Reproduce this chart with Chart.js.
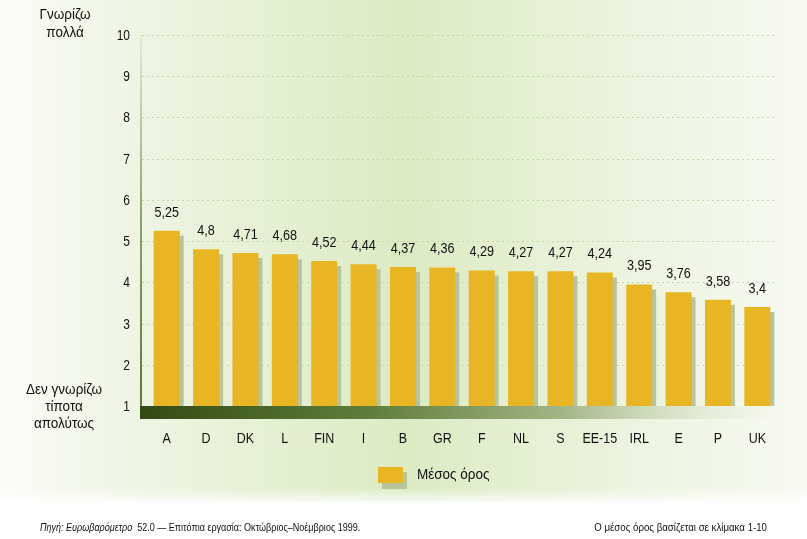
<!DOCTYPE html>
<html><head><meta charset="utf-8">
<script src="https://cdn.jsdelivr.net/npm/chart.js@4"></script>
<style>html,body{margin:0;padding:0;background:#fff}#wrap{width:807px;height:539px;position:relative}</style>
</head><body><div id="wrap"><canvas id="c" width="807" height="539"></canvas></div>
<script>
const categories = ["A","D","DK","L","FIN","I","B","GR","F","NL","S","EE-15","IRL","E","P","UK"];
const meanValues = [5.25,4.8,4.71,4.68,4.52,4.44,4.37,4.36,4.29,4.27,4.27,4.24,3.95,3.76,3.58,3.4];
const valueLabels = ["5,25","4,8","4,71","4,68","4,52","4,44","4,37","4,36","4,29","4,27","4,27","4,24","3,95","3,76","3,58","3,4"];
const yTicks = [1,2,3,4,5,6,7,8,9,10];
const seriesLabel = "Μέσος όρος";
const topAxisTitle = ["Γνωρίζω","πολλά"];
const bottomAxisTitle = ["Δεν γνωρίζω","τίποτα","απολύτως"];
const sourceItalic = "Πηγή: Ευρωβαρόμετρο";
const sourceRest = "  52.0 — Επιτόπια εργασία: Οκτώβριος–Νοέμβριος 1999.";
const noteText = "Ο μέσος όρος βασίζεται σε κλίμακα 1-10";

const FONT = '"Liberation Sans",Arial,sans-serif';
const BAR = '#e8b624', SHADOW = '#b7c49c';

function txt(ctx, s, x, y, align, font, sx){
  ctx.save(); ctx.font = font; ctx.translate(x,y); ctx.scale(sx,1);
  ctx.textAlign = align; ctx.textBaseline = 'alphabetic'; ctx.fillText(s,0,0); ctx.restore();
}

const bgPlugin = {
  id:'bg',
  beforeDraw(chart){
    const ctx = chart.ctx, W = chart.width, H = chart.height;
    ctx.save();
    ctx.fillStyle = '#fff'; ctx.fillRect(0,0,W,H);
    const g = ctx.createLinearGradient(0,0,W,0);
    g.addColorStop(0,'#fbfcf8');
    g.addColorStop(0.18,'#eef4e2');
    g.addColorStop(0.5,'#dcebc3');
    g.addColorStop(0.8,'#eef4e1');
    g.addColorStop(1,'#f8faf3');
    ctx.fillStyle = g; ctx.fillRect(0,0,W,502);
    const v = ctx.createLinearGradient(0,488,0,506);
    v.addColorStop(0,'rgba(255,255,255,0)');
    v.addColorStop(1,'rgba(255,255,255,1)');
    ctx.fillStyle = v; ctx.fillRect(0,488,W,20);
    // grid lines
    const y = chart.scales.y;
    ctx.strokeStyle = '#c3d8a8'; ctx.lineWidth = 1; ctx.setLineDash([2,3]);
    yTicks.forEach(t=>{ if(t===1) return;
      const py = Math.round(y.getPixelForValue(t))+0.5;
      ctx.beginPath(); ctx.moveTo(142,py); ctx.lineTo(776,py); ctx.stroke();
    });
    ctx.setLineDash([]);
    // y axis line
    const la = ctx.createLinearGradient(0,y.top,0,y.bottom);
    la.addColorStop(0,'#e4ecd6'); la.addColorStop(0.5,'#8aa466'); la.addColorStop(1,'#5b7a36');
    ctx.strokeStyle = la; ctx.lineWidth = 2;
    ctx.beginPath(); ctx.moveTo(141,y.top); ctx.lineTo(141,y.bottom); ctx.stroke();
    // y tick labels
    ctx.fillStyle = '#111';
    yTicks.forEach(t=>{ txt(ctx, String(t), 130, y.getPixelForValue(t)+5, 'right', '15px '+FONT, 0.8); });
    ctx.restore();
  },
  beforeDatasetDraw(chart){
    const ctx = chart.ctx; ctx.save();
    ctx.shadowColor = SHADOW; ctx.shadowOffsetX = 4; ctx.shadowOffsetY = 5; ctx.shadowBlur = 0;
  },
  afterDatasetDraw(chart){ chart.ctx.restore(); },
  afterDatasetsDraw(chart){
    const ctx = chart.ctx, y = chart.scales.y, x = chart.scales.x;
    ctx.save();
    const base = y.getPixelForValue(1);
    const bg = ctx.createLinearGradient(140,0,790,0);
    bg.addColorStop(0,'#314a12'); bg.addColorStop(0.35,'#5f7d3a');
    bg.addColorStop(0.65,'#a3b587'); bg.addColorStop(1,'rgba(230,238,215,0)');
    ctx.fillStyle = bg; ctx.fillRect(140,base,650,13);
    ctx.fillStyle = '#111';
    // x tick labels
    categories.forEach((c,i)=>{ txt(ctx, c, x.getPixelForValue(i), 443, 'center', '14.5px '+FONT, 0.86); });
    // value labels
    chart.getDatasetMeta(0).data.forEach((b,i)=>{ txt(ctx, valueLabels[i], b.x, b.y-14, 'center', '14px '+FONT, 0.9); });
    // axis titles
    txt(ctx, topAxisTitle[0],65,19,'center','15px '+FONT,0.9);
    txt(ctx, topAxisTitle[1],65,37,'center','15px '+FONT,0.9);
    txt(ctx, bottomAxisTitle[0],64,394,'center','15px '+FONT,0.9);
    txt(ctx, bottomAxisTitle[1],64,411,'center','15px '+FONT,0.9);
    txt(ctx, bottomAxisTitle[2],64,428,'center','15px '+FONT,0.9);
    // legend
    ctx.fillStyle = SHADOW; ctx.fillRect(382,472,25,17);
    ctx.fillStyle = BAR; ctx.fillRect(378,467,25,16);
    ctx.fillStyle = '#111';
    txt(ctx, seriesLabel, 417, 479, 'left', '15px '+FONT, 0.9);
    // footer
    ctx.font = 'italic 11px '+FONT;
    const w = ctx.measureText(sourceItalic).width*0.82;
    txt(ctx, sourceItalic, 40, 531, 'left', 'italic 11px '+FONT, 0.82);
    txt(ctx, sourceRest, 40+w, 531, 'left', '11px '+FONT, 0.82);
    txt(ctx, noteText, 767, 531, 'right', '11px '+FONT, 0.88);
    ctx.restore();
  }
};

new Chart(document.getElementById('c'),{
  type:'bar',
  data:{labels:categories,datasets:[{label:seriesLabel,data:meanValues,backgroundColor:BAR,borderWidth:0,
    barPercentage:0.66,categoryPercentage:1,base:1}]},
  options:{
    responsive:false,animation:false,devicePixelRatio:1,
    layout:{padding:{top:35,right:30,left:0,bottom:0}},
    plugins:{legend:{display:false},tooltip:{enabled:false}},
    scales:{
      x:{grid:{display:false},border:{display:false},
        ticks:{display:false},
        afterFit(s){s.height=133;}},
      y:{min:1,max:10,grid:{display:false},border:{display:false},
        ticks:{display:false,stepSize:1},
        afterFit(s){s.width=147;}}
    }
  },
  plugins:[bgPlugin]
});
</script></body></html>
